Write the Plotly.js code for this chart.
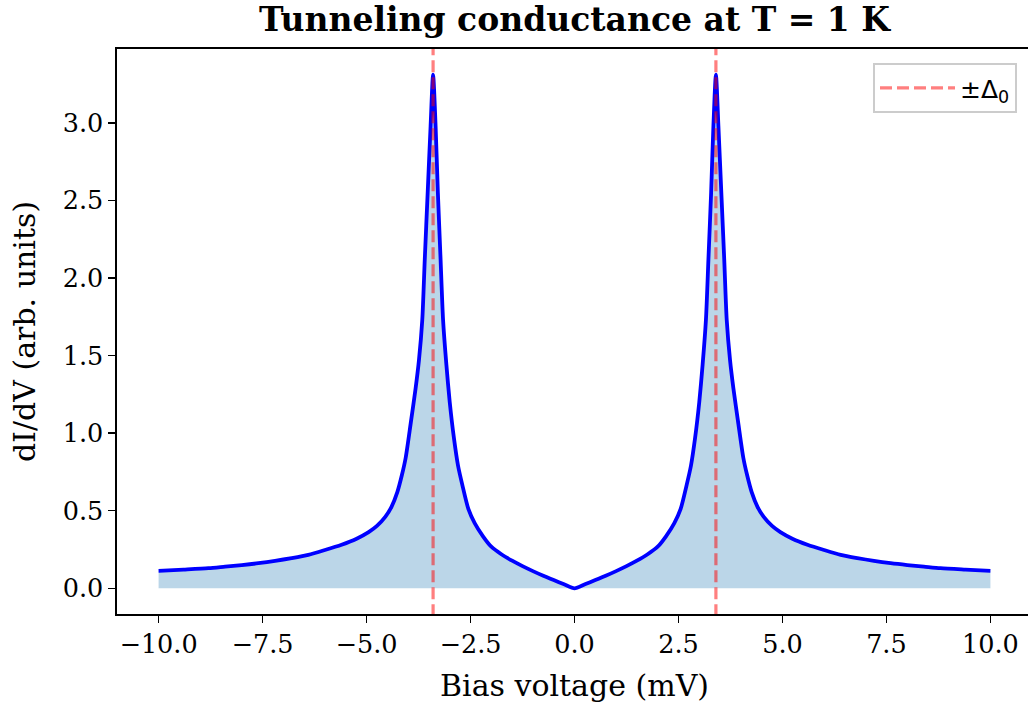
<!DOCTYPE html>
<html>
<head>
<meta charset="utf-8">
<script src="https://cdn.plot.ly/plotly-3.0.1.min.js"></script>
<style>
  html, body { margin: 0; padding: 0; overflow: hidden; background: #fff; }
  #chart { width: 1032px; height: 709px; }
</style>
</head>
<body>
<div id="chart"></div>
<script>
// Bias voltage (mV) and conductance dI/dV (arb. units)
const bias = [
  -10.0, -9.4, -8.8, -8.4, -8.0, -7.6, -7.2, -6.8, -6.4, -6.0, -5.6, -5.25, -4.95, -4.75,
  -4.55, -4.4, -4.26, -4.15, -4.06, -3.94, -3.82, -3.74, -3.66, -3.6, -3.53, -3.46, -3.4,
  -3.34, -3.285, -3.22, -3.16, -3.08, -3.0, -2.9, -2.8, -2.7, -2.55, -2.4, -2.2, -2.0,
  -1.75, -1.5, -1.25, -1.0, -0.75, -0.5, -0.25, 0.0,
  0.25, 0.5, 0.75, 1.0, 1.25, 1.5, 1.75, 2.0, 2.2, 2.4, 2.55, 2.7, 2.8, 2.9, 3.0, 3.08,
  3.16, 3.22, 3.285, 3.34, 3.4, 3.46, 3.53, 3.6, 3.66, 3.74, 3.82, 3.94, 4.06, 4.15, 4.26,
  4.4, 4.55, 4.75, 4.95, 5.25, 5.6, 6.0, 6.4, 6.8, 7.2, 7.6, 8.0, 8.4, 8.8, 9.4, 10.0
];
const didv = [
  0.113, 0.121, 0.130, 0.140, 0.150, 0.162, 0.177, 0.195, 0.216, 0.247, 0.281, 0.318, 0.362, 0.402,
  0.460, 0.525, 0.620, 0.730, 0.840, 1.060, 1.290, 1.470, 1.730, 2.120, 2.550, 2.980, 3.310,
  2.980, 2.550, 2.120, 1.730, 1.440, 1.200, 0.970, 0.790, 0.670, 0.510, 0.420, 0.335, 0.268,
  0.218, 0.178, 0.143, 0.111, 0.081, 0.053, 0.026, 0.000,
  0.026, 0.053, 0.081, 0.111, 0.143, 0.178, 0.218, 0.268, 0.335, 0.420, 0.510, 0.670, 0.790, 0.970, 1.200, 1.440,
  1.730, 2.120, 2.550, 2.980, 3.310, 2.980, 2.550, 2.120, 1.730, 1.470, 1.290, 1.060, 0.840, 0.730, 0.620,
  0.525, 0.460, 0.402, 0.362, 0.318, 0.281, 0.247, 0.216, 0.195, 0.177, 0.162, 0.150, 0.140, 0.130, 0.121, 0.113
];
// Gap edges ±Δ0 (mV)
const gapEdges = [-3.4, 3.4];
const legendLabel = "±Δ<sub>0</sub>";

// Tick labels
const xTickVals = [-10, -7.5, -5, -2.5, 0, 2.5, 5, 7.5, 10];
const xTickText = ["−10.0", "−7.5", "−5.0", "−2.5", "0.0", "2.5", "5.0", "7.5", "10.0"];
const yTickVals = [0, 0.5, 1, 1.5, 2, 2.5, 3];
const yTickText = ["0.0", "0.5", "1.0", "1.5", "2.0", "2.5", "3.0"];

const yRange = [-0.1655, 3.476];
const vx = [], vy = [];
gapEdges.forEach((g, i) => {
  if (i > 0) { vx.push(null); vy.push(null); }
  vx.push(g, g); vy.push(yRange[0] - 1, yRange[1] + 1);
});

const serif = "DejaVu Serif, Liberation Serif, serif";

const traces = [
  {
    x: bias, y: didv, type: "scatter", mode: "lines",
    fill: "tozeroy", fillcolor: "rgba(31,119,180,0.3)",
    line: { width: 0, color: "rgba(0,0,0,0)", shape: "spline", smoothing: 0.7 },
    showlegend: false, hoverinfo: "skip"
  },
  {
    x: bias, y: didv, type: "scatter", mode: "lines",
    line: { color: "#0000ff", width: 3.8, shape: "spline", smoothing: 0.7 },
    showlegend: false
  },
  {
    x: vx, y: vy, type: "scatter", mode: "lines",
    name: legendLabel,
    line: { color: "rgba(255,0,0,0.5)", width: 3.2, dash: "12px,5px" },
    showlegend: true
  }
];

const layout = {
  width: 1032, height: 709,
  margin: { l: 117, r: 0, t: 49, b: 95 },
  paper_bgcolor: "#ffffff", plot_bgcolor: "#ffffff",
  font: { family: serif, color: "#000000", size: 25 },
  title: {
    text: "<b>Tunneling conductance at T = 1 K</b>",
    font: { family: serif, size: 33, color: "#000000" },
    x: 0.5, xref: "paper", xanchor: "center",
    y: 0.972, yref: "container", yanchor: "middle"
  },
  xaxis: {
    range: [-11, 11],
    tickvals: xTickVals, ticktext: xTickText,
    ticks: "outside", ticklen: 7, tickwidth: 1.5, tickcolor: "#000",
    showline: true, linecolor: "#000", linewidth: 1.6, mirror: true,
    showgrid: false, zeroline: false,
    tickfont: { family: serif, size: 25.5, color: "#000" },
    title: { text: "Bias voltage (mV)", font: { family: serif, size: 30, color: "#000" }, standoff: 17 }
  },
  yaxis: {
    range: yRange,
    tickvals: yTickVals, ticktext: yTickText,
    ticks: "outside", ticklen: 7, tickwidth: 1.5, tickcolor: "#000",
    showline: true, linecolor: "#000", linewidth: 1.6, mirror: true,
    showgrid: false, zeroline: false,
    tickfont: { family: serif, size: 25.5, color: "#000" },
    title: { text: "dI/dV (arb. units)", font: { family: serif, size: 30, color: "#000" }, standoff: 18 }
  },
  legend: {
    x: 0.9836, xanchor: "right", y: 0.975, yanchor: "top",
    bgcolor: "rgba(255,255,255,0.8)", bordercolor: "#cccccc", borderwidth: 2,
    itemwidth: 75,
    font: { family: "DejaVu Sans, sans-serif", size: 25, color: "#000" }
  },
  showlegend: true
};

Plotly.newPlot("chart", traces, layout, { staticPlot: true, displayModeBar: false });
</script>
</body>
</html>
